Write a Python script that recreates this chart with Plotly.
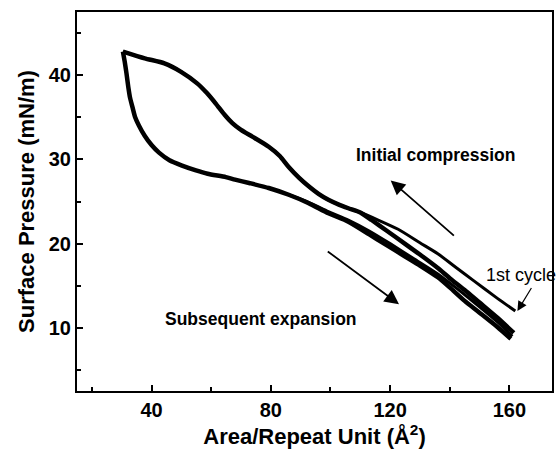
import plotly.graph_objects as go

# Shared upper (compression) path, from the merge point back to the peak
upper_x = [110.0, 106.0, 103.0, 99.3, 96.0, 92.7, 89.5, 86.0, 83.0, 79.3, 73.8, 70.0, 67.1, 64.5, 61.6, 58.5, 55.4, 49.9, 44.3, 37.7, 30.4]
upper_y = [23.7, 24.2, 24.6, 25.2, 25.9, 26.8, 27.8, 29.1, 30.4, 31.5, 32.7, 33.5, 34.3, 35.3, 36.6, 37.9, 39.0, 40.4, 41.4, 42.0, 42.8]

# First-cycle compression (right-hand part, before merging)
first_x = [162.0, 156.0, 148.0, 142.0, 136.0, 130.0, 122.7, 116.0]
first_y = [12.0, 13.5, 15.6, 17.2, 18.8, 20.1, 21.7, 22.8]

# Later-cycle compressions (right-hand part, before merging)
comp_x = [161.5, 156.0, 150.0, 145.0, 140.0, 136.0, 130.0, 124.9, 119.0, 113.8]
comp_y = [9.4, 11.2, 13.0, 14.5, 15.9, 17.1, 18.7, 20.0, 21.5, 22.8]

# Expansion path (peak -> large area)
exp_x = [30.4, 31.0, 31.6, 32.2, 32.8, 33.6, 34.5, 35.8, 37.7, 40.0, 42.5, 46.0, 50.0, 54.9, 58.8, 64.9, 68.0,
         72.7, 79.3, 86.0, 92.7, 99.3, 106.0, 113.0, 118.0, 124.9, 130.0, 136.0, 140.0, 145.0, 150.0,
         156.0, 160.5]
exp_y = [42.8, 41.6, 40.2, 38.6, 37.3, 36.2, 35.0, 34.0, 32.8, 31.7, 30.8, 29.9, 29.3, 28.7, 28.3, 27.9, 27.6,
         27.2, 26.6, 25.8, 24.8, 23.6, 22.6, 21.1, 20.0, 18.5, 17.4, 16.0, 14.8, 13.2, 11.8,
         10.1, 8.7]

# Second expansion trace (spread of the bundle)
exp2_x = [86.0, 92.7, 99.3, 106.0, 113.0, 120.0, 128.0, 136.0, 143.0, 150.0, 156.0, 161.0]
exp2_y = [25.8, 24.9, 23.8, 22.8, 21.5, 20.0, 18.2, 16.4, 14.5, 12.5, 10.7, 9.0]

BLACK = "black"
fig = go.Figure()
line_main = dict(color=BLACK, width=4.5, shape="spline", smoothing=0.6)

fig.add_trace(go.Scatter(x=exp_x, y=exp_y, mode="lines", line=line_main, showlegend=False))
fig.add_trace(go.Scatter(x=exp2_x, y=exp2_y, mode="lines",
                         line=dict(color=BLACK, width=3, shape="spline", smoothing=0.6), showlegend=False))
fig.add_trace(go.Scatter(x=comp_x + upper_x, y=comp_y + upper_y, mode="lines", line=line_main, showlegend=False))
fig.add_trace(go.Scatter(x=first_x + upper_x, y=first_y + upper_y, mode="lines",
                         line=dict(color=BLACK, width=3, shape="spline", smoothing=0.6), showlegend=False))

FONT = "Liberation Sans, Arial, sans-serif"

# arrows
arrows = [
    dict(x=120.2, y=27.5, ax=141.9, ay=20.8, w=1.8, s=1.6),
    dict(x=123.0, y=12.8, ax=98.6, ay=19.2, w=1.8, s=1.6),
    dict(x=162.7, y=12.0, ax=167.7, ay=14.9, w=1.2, s=1.6),
]
for a in arrows:
    fig.add_annotation(x=a["x"], y=a["y"], ax=a["ax"], ay=a["ay"], xref="x", yref="y",
                       axref="x", ayref="y", showarrow=True, arrowhead=2, arrowsize=a["s"],
                       arrowwidth=a["w"], arrowcolor=BLACK, text="")

fig.add_annotation(x=135.3, y=30.5, xref="x", yref="y", text="Initial compression", showarrow=False,
                   font=dict(family=FONT, size=17.5, color=BLACK, weight="bold"))
fig.add_annotation(x=76.7, y=11.1, xref="x", yref="y", text="Subsequent expansion", showarrow=False,
                   font=dict(family=FONT, size=17.5, color=BLACK, weight="bold"))
fig.add_annotation(x=163.8, y=16.3, xref="x", yref="y", text="1st cycle", showarrow=False,
                   font=dict(family=FONT, size=18, color=BLACK))

fig.update_layout(
    width=556, height=449,
    margin=dict(l=77, r=2, t=12, b=58),
    paper_bgcolor="white", plot_bgcolor="white",
    font=dict(family=FONT, color=BLACK),
)
fig.update_xaxes(
    range=[15, 174.3], tickvals=[40, 80, 120, 160], ticks="inside", ticklen=6, tickwidth=2,
    tickcolor=BLACK, showline=True, linecolor=BLACK, linewidth=2, mirror=True, showgrid=False,
    zeroline=False, tickfont=dict(family=FONT, size=20, color=BLACK, weight="bold"),
    minor=dict(dtick=20, tick0=0, ticks="inside", ticklen=4, tickwidth=2, tickcolor=BLACK),
    title=dict(text="Area/Repeat Unit (Å<sup>2</sup>)", standoff=4,
               font=dict(family=FONT, size=22, color=BLACK, weight="bold")),
)
fig.update_yaxes(
    range=[2.5, 47.5], tickvals=[10, 20, 30, 40], ticks="inside", ticklen=6, tickwidth=2,
    tickcolor=BLACK, showline=True, linecolor=BLACK, linewidth=2, mirror=True, showgrid=False,
    zeroline=False, tickfont=dict(family=FONT, size=20, color=BLACK, weight="bold"),
    minor=dict(dtick=5, tick0=0, ticks="inside", ticklen=4, tickwidth=2, tickcolor=BLACK),
    title=dict(text="Surface Pressure (mN/m)", standoff=8,
               font=dict(family=FONT, size=22, color=BLACK, weight="bold")),
)

fig.write_html("out.html")
